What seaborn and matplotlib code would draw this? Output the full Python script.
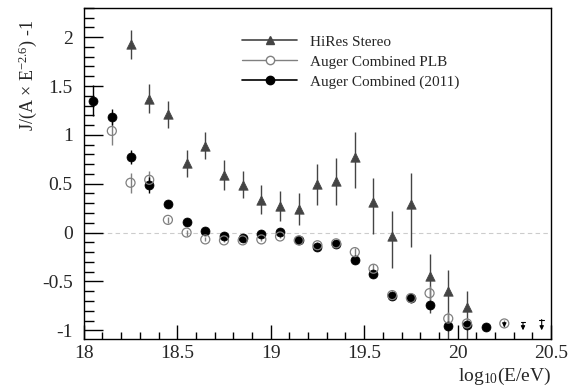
import numpy as np
import matplotlib
matplotlib.use("Agg")
import matplotlib.pyplot as plt
import seaborn as sns
import pandas as pd
from matplotlib.lines import Line2D
from matplotlib.ticker import MultipleLocator

# HiRes Stereo
hires_x = [18.25, 18.35, 18.45, 18.55, 18.65, 18.75, 18.85, 18.95, 19.05, 19.15,
           19.25, 19.35, 19.45, 19.55, 19.65, 19.75, 19.85, 19.95, 20.05]
hires_y = [1.93, 1.37, 1.21, 0.71, 0.89, 0.59, 0.49, 0.33, 0.27, 0.24,
           0.50, 0.53, 0.77, 0.31, -0.03, 0.29, -0.44, -0.60, -0.76]
hires_lo = [0.15, 0.15, 0.14, 0.14, 0.14, 0.15, 0.14, 0.14, 0.15, 0.16,
            0.22, 0.25, 0.31, 0.32, 0.33, 0.44, 0.38, 0.50, 0.40]
hires_hi = [0.14, 0.15, 0.14, 0.14, 0.14, 0.15, 0.14, 0.16, 0.16, 0.16,
            0.20, 0.23, 0.26, 0.25, 0.25, 0.32, 0.22, 0.22, 0.16]

# Auger Combined PLB
plb_x = [18.15, 18.25, 18.35, 18.45, 18.55, 18.65, 18.75, 18.85, 18.95, 19.05,
         19.15, 19.25, 19.35, 19.45, 19.55, 19.65, 19.75, 19.85, 19.95, 20.05, 20.25]
plb_y = [1.04, 0.51, 0.54, 0.13, 0.00, -0.07, -0.08, -0.08, -0.07, -0.04,
         -0.08, -0.13, -0.11, -0.20, -0.37, -0.64, -0.67, -0.62, -0.88, -0.93, -0.93]
plb_err = [0.14, 0.10, 0.09, 0.03, 0.03, 0.02, 0.02, 0.02, 0.02, 0.02,
           0.02, 0.03, 0.03, 0.04, 0.05, 0.04, 0.05, 0.07, 0.07, 0.06, 0.04]

# Auger Combined (2011)
aug_x = [18.05, 18.15, 18.25, 18.35, 18.45, 18.55, 18.65, 18.75, 18.85, 18.95,
         19.05, 19.15, 19.25, 19.35, 19.45, 19.55, 19.65, 19.75, 19.85, 19.95,
         20.05, 20.15]
aug_y = [1.35, 1.18, 0.77, 0.49, 0.29, 0.11, 0.02, -0.03, -0.06, -0.01,
         0.01, -0.08, -0.15, -0.12, -0.28, -0.42, -0.65, -0.67, -0.74, -0.96,
         -0.95, -0.97]
aug_err = [0.16, 0.08, 0.07, 0.08, 0.02, 0.02, 0.02, 0.02, 0.02, 0.02,
           0.02, 0.02, 0.02, 0.02, 0.03, 0.03, 0.03, 0.03, 0.04, 0.03,
           0.03, 0.02]

# upper limits
lim_x = [20.25, 20.35, 20.45]
lim_y = [-0.92, -0.92, -0.89]
lim_len = [0.05, 0.08, 0.11]

sns.set_style("ticks")
plt.rcParams["font.family"] = ["Liberation Serif", "DejaVu Serif"]
plt.rcParams["mathtext.fontset"] = "custom"
plt.rcParams["mathtext.rm"] = "Liberation Serif"
plt.rcParams["mathtext.it"] = "Liberation Serif:italic"
plt.rcParams["axes.unicode_minus"] = False

fig = plt.figure(figsize=(5.74, 3.92), dpi=100)
ax = fig.add_axes([0.146, 0.135, 0.814, 0.845])

c_hires = "#444444"
c_plb = "#808080"
c_aug = "black"

ax.axhline(0, color="#cccccc", ls=(0, (4, 3)), lw=0.8, zorder=0)

ax.errorbar(hires_x, hires_y, yerr=[hires_lo, hires_hi], fmt="none",
            ecolor=c_hires, elinewidth=1.0, zorder=2)
ax.errorbar(plb_x, plb_y, yerr=plb_err, fmt="none", ecolor=c_plb, elinewidth=1.0, zorder=2)
ax.errorbar(aug_x, aug_y, yerr=aug_err, fmt="none", ecolor=c_aug, elinewidth=1.0, zorder=2)

sns.scatterplot(x=hires_x, y=hires_y, marker="^", s=46, color=c_hires,
                edgecolor=c_hires, linewidth=0.5, ax=ax, zorder=3)
sns.scatterplot(x=aug_x, y=aug_y, marker="o", s=42, color=c_aug,
                edgecolor=c_aug, linewidth=0.5, ax=ax, zorder=3)
sns.scatterplot(x=plb_x, y=plb_y, marker="o", s=42, facecolor="none",
                edgecolor=c_plb, linewidth=0.9, ax=ax, zorder=4)

for x0, y0, l0 in zip(lim_x, lim_y, lim_len):
    ax.annotate("", xy=(x0, y0 - l0), xytext=(x0, y0),
                arrowprops=dict(arrowstyle="-|>", color="black", lw=0.8,
                                mutation_scale=6, shrinkA=0, shrinkB=0), zorder=5)
    if l0 > 0.06:
        ax.plot([x0 - 0.012, x0 + 0.012], [y0, y0], color="black", lw=0.8, zorder=5)

ax.set_xlim(18, 20.5)
ax.set_ylim(-1.09, 2.3)
ax.xaxis.set_major_locator(MultipleLocator(0.5))
ax.xaxis.set_minor_locator(MultipleLocator(0.1))
ax.yaxis.set_major_locator(MultipleLocator(0.5))
ax.yaxis.set_minor_locator(MultipleLocator(0.1))
ax.xaxis.set_major_formatter(matplotlib.ticker.FuncFormatter(lambda v, p: f"{v:g}"))
ax.yaxis.set_major_formatter(matplotlib.ticker.FuncFormatter(lambda v, p: f"{v:g}"))
ax.tick_params(axis="both", which="both", direction="in", top=False, right=False,
               labelsize=14, color="black")
ax.tick_params(axis="y", which="major", length=14, width=1, pad=8)
ax.tick_params(axis="y", which="minor", length=7, width=1)
ax.tick_params(axis="x", which="major", length=10, width=1, pad=4)
ax.tick_params(axis="x", which="minor", length=5, width=1)
for sp in ax.spines.values():
    sp.set_linewidth(1.0)
    sp.set_color("black")

ax.set_ylabel(r"J/(A $\times$ E$^{-2.6}$) -1", fontsize=13, loc="top")
ax.yaxis.set_label_coords(-0.095, 0.964)
ax.set_xlabel(r"log$_{10}$(E/eV)", fontsize=14, loc="right")
ax.xaxis.set_label_coords(1.0, -0.08)

handles = [
    Line2D([], [], color=c_hires, marker="^", markersize=6, lw=1.2),
    Line2D([], [], color=c_plb, marker="o", markersize=6, markerfacecolor="white", lw=1.0),
    Line2D([], [], color=c_aug, marker="o", markersize=6, lw=1.2),
]
labels = ["HiRes Stereo", "Auger Combined PLB", "Auger Combined (2011)"]
ax.legend(handles, labels, loc="upper left", bbox_to_anchor=(0.31, 0.96), frameon=False,
          fontsize=11, handlelength=3.6, handletextpad=0.8, labelspacing=0.42)

fig.savefig("out.png", dpi=100)
